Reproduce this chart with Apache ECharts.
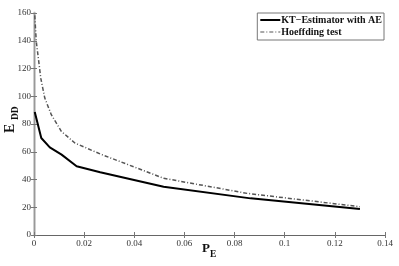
<!DOCTYPE html>
<html><head><meta charset="utf-8">
<script src="https://cdn.jsdelivr.net/npm/echarts@6/dist/echarts.min.js"></script>
<style>html,body{margin:0;padding:0;background:#fff}#c{width:399px;height:266px}</style>
</head><body><div id="c"></div>
<script>
var xTicks = [0, 0.02, 0.04, 0.06, 0.08, 0.1, 0.12, 0.14];
var yTicks = [0, 20, 40, 60, 80, 100, 120, 140, 160];
var ktX = [0.0003, 0.0029, 0.0063, 0.011, 0.017, 0.0264, 0.0517, 0.0864, 0.13];
var ktY = [88.6, 69.9, 63.2, 57.9, 49.5, 45.2, 34.8, 26.4, 18.7];
var hoX = [0.0003, 0.0009, 0.0019, 0.0027, 0.0043, 0.0069, 0.0109, 0.0163, 0.0264, 0.0517, 0.085, 0.13];
var hoY = [158.3, 139.6, 125, 113, 98.7, 86.7, 74.7, 66.3, 58.4, 40.9, 30, 20.4];
var names = ['KT\u2212Estimator with AE', 'Hoeffding test'];
var xName = ['P', 'E'];
var yName = ['E', 'DD'];

function pairs(xs, ys){ return xs.map(function(x,i){ return [x, ys[i]]; }); }
var serif = 'Liberation Serif';
var chart = echarts.init(document.getElementById('c'), null, {renderer:'canvas'});
var axisCommon = {
  min: 0, axisTick: {inside: true, length: 3, lineStyle: {color: '#777'}},
  splitLine: {show: false}
};
function txt(s, x, y, size, rot){
  return {type: 'text', x: x, y: y, rotation: rot || 0, z: 100,
    style: {text: s, fontFamily: serif, fontWeight: 'bold', fontSize: size, fill: '#111',
      align: 'left', verticalAlign: 'top', textAlign: 'left', textVerticalAlign: 'top'}};
}
var dashIcon = 'path://M0,0H4V1H0Z M6,0H7V1H6Z M9,0H13V1H9Z M15,0H16V1H15Z M18,0H20V1H18Z';
chart.setOption({
  animation: false,
  grid: {left: 34, right: 14, top: 13, bottom: 31, outerBoundsMode: 'none', containLabel: false},
  xAxis: [
    Object.assign({}, axisCommon, {type: 'value', max: 0.14, interval: 0.02, position: 'bottom',
      axisLine: {lineStyle: {color: '#888', width: 1}},
      axisLabel: {color: '#333', fontFamily: serif, fontSize: 9, margin: 4,
        formatter: function(v){ return String(+v.toFixed(2)); }}}),
    Object.assign({}, axisCommon, {type: 'value', max: 0.14, interval: 0.02, position: 'top',
      axisLine: {lineStyle: {color: '#666', width: 1}}, axisLabel: {show: false}})
  ],
  yAxis: [
    Object.assign({}, axisCommon, {type: 'value', max: 160, interval: 20, position: 'left',
      axisLine: {lineStyle: {color: '#cfcfcf', width: 3}},
      axisLabel: {color: '#333', fontFamily: serif, fontSize: 9, margin: 3}}),
    Object.assign({}, axisCommon, {type: 'value', max: 160, interval: 20, position: 'right',
      axisLine: {lineStyle: {color: '#999', width: 1}}, axisLabel: {show: false}})
  ],
  graphic: [
    txt(xName[0], 202, 242, 13),
    txt(xName[1], 210, 250, 9.5),
    txt(yName[0], 3, 133, 14, Math.PI / 2),
    txt(yName[1], 11, 120, 9.5, Math.PI / 2)
  ],
  legend: {
    right: 15, top: 13, orient: 'vertical', itemGap: 2, itemWidth: 20, itemHeight: 10,
    padding: [2, 2, 3, 3], borderColor: '#777', borderWidth: 1, backgroundColor: '#fff',
    textStyle: {fontFamily: serif, fontWeight: 'bold', fontSize: 10, color: '#111', padding: [0,0,0,-4]},
    data: [{name: names[0], icon: 'path://M0,0H20V2H0Z'}, {name: names[1], icon: dashIcon}]
  },
  series: [
    {name: names[0], type: 'line', data: pairs(ktX, ktY), symbol: 'none', z: 3,
      lineStyle: {color: '#000', width: 2}, itemStyle: {color: '#000'}},
    {name: names[1], type: 'line', data: pairs(hoX, hoY), symbol: 'none', z: 2,
      lineStyle: {color: '#555', width: 1.5, type: [4, 2, 1, 2]}, itemStyle: {color: '#555'}}
  ]
});
</script></body></html>
